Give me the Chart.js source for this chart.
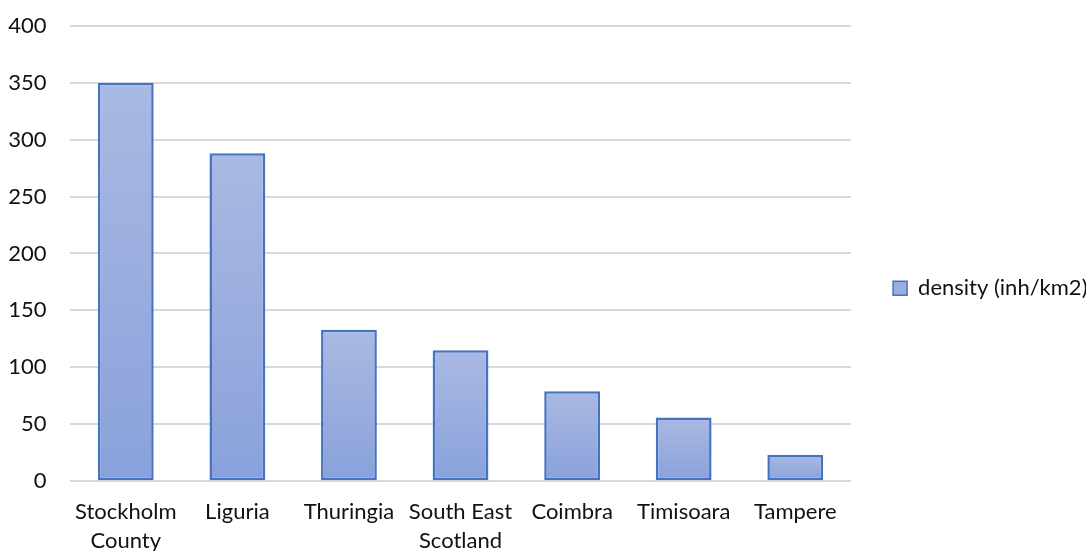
<!DOCTYPE html>
<html>
<head>
<meta charset="utf-8">
<script src="https://cdn.jsdelivr.net/npm/chart.js@4.4.1/dist/chart.umd.min.js"></script>
<style>
  html, body { margin: 0; padding: 0; background: #ffffff; }
  #wrap { width: 1086px; height: 551px; }
</style>
</head>
<body>
<div id="wrap"><canvas id="chart" width="1086" height="551"></canvas></div>
<script>
// Population density by region
const regions = [
  ['Stockholm', 'County'],
  'Liguria',
  'Thuringia',
  ['South East', 'Scotland'],
  'Coimbra',
  'Timisoara',
  'Tampere'
];
const density = [350, 288, 133, 115, 79, 56, 23];
const seriesName = 'density (inh/km2)';
const yTicks = [0, 50, 100, 150, 200, 250, 300, 350, 400];

const FONT = 'Lato, "Open Sans", "Noto Sans", sans-serif';
const TEXT = '#111111';
const BAR_TOP = 'rgb(170,185,226)';
const BAR_BOTTOM = 'rgb(137,161,219)';
const BAR_EDGE = '#4472c4';

// Each bar gets its own vertical gradient, light at the top and deeper at the base.
function barFill(ctx) {
  const chart = ctx.chart;
  const y = chart.scales && chart.scales.y;
  if (!y || ctx.type !== 'data') return BAR_BOTTOM;
  const top = y.getPixelForValue(ctx.raw);
  const base = y.getPixelForValue(0);
  if (!isFinite(top) || !isFinite(base) || top === base) return BAR_BOTTOM;
  const g = chart.ctx.createLinearGradient(0, top, 0, base);
  g.addColorStop(0, BAR_TOP);
  g.addColorStop(1, BAR_BOTTOM);
  return g;
}

// Legend swatch uses the middle tone of the bar gradient.
function legendLabels(chart) {
  return chart.data.datasets.map((ds, i) => ({
    text: ds.label,
    fillStyle: 'rgb(154,173,223)',
    strokeStyle: BAR_EDGE,
    lineWidth: 1.5,
    hidden: false,
    datasetIndex: i,
    fontColor: TEXT
  }));
}

new Chart(document.getElementById('chart'), {
  type: 'bar',
  data: {
    labels: regions,
    datasets: [{
      label: seriesName,
      data: density,
      backgroundColor: barFill,
      borderColor: BAR_EDGE,
      borderWidth: 2.5,
      borderSkipped: false,
      categoryPercentage: 1.0,
      barPercentage: 0.5
    }]
  },
  options: {
    responsive: false,
    animation: false,
    devicePixelRatio: 1,
    layout: { padding: { top: 25.7, right: -11.5, bottom: 0, left: 0 } },
    plugins: {
      tooltip: { enabled: false },
      title: { display: false },
      legend: {
        position: 'right',
        align: 'center',
        labels: {
          boxWidth: 14,
          boxHeight: 14,
          padding: 42,
          color: TEXT,
          font: { family: FONT, size: 22 },
          generateLabels: legendLabels
        }
      }
    },
    scales: {
      x: {
        offset: true,
        grid: { display: false, drawTicks: false },
        border: { display: false },
        ticks: {
          color: TEXT,
          padding: 17,
          maxRotation: 0,
          autoSkip: false,
          font: { family: FONT, size: 22, lineHeight: 1.28 }
        },
        afterFit: (scale) => { scale.height = 69.8; }
      },
      y: {
        min: 0,
        max: 400,
        afterBuildTicks: (scale) => { scale.ticks = yTicks.map(v => ({ value: v })); },
        grid: { color: '#d9d9d9', lineWidth: 2, drawTicks: false },
        border: { display: false },
        ticks: {
          color: TEXT,
          padding: 23.5,
          font: { family: FONT, size: 22 }
        },
        afterFit: (scale) => {
          scale.width = 70;
          // the label gap is horizontal only; keep it out of the vertical margins
          scale.paddingTop = 14;
          scale.paddingBottom = 14;
        }
      }
    }
  }
});
</script>
</body>
</html>
